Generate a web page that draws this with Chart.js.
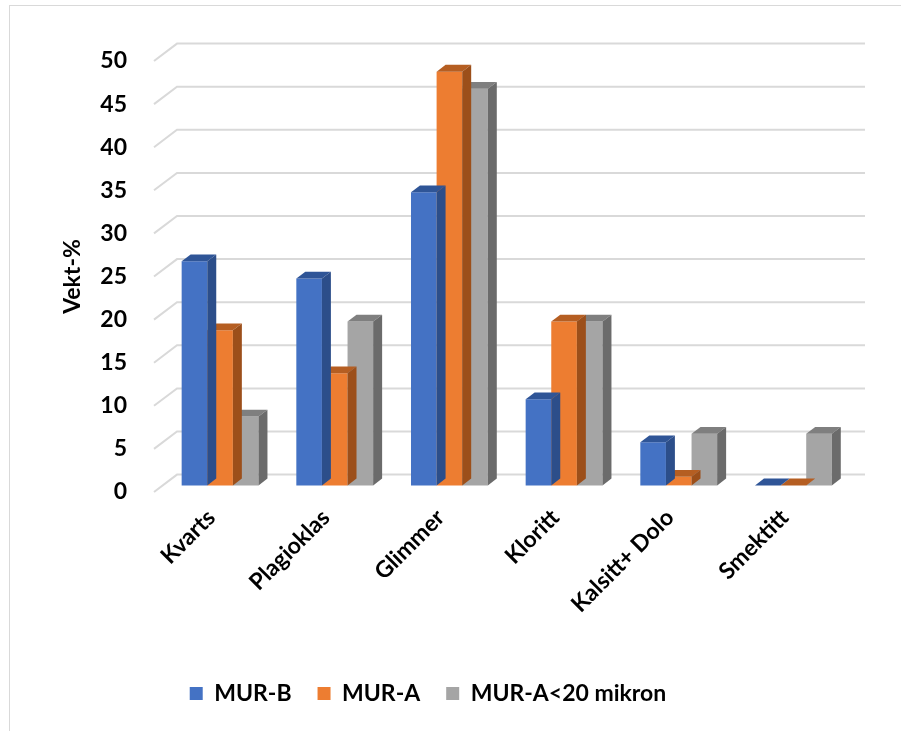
<!DOCTYPE html>
<html>
<head>
<meta charset="utf-8">
<script src="https://cdn.jsdelivr.net/npm/chart.js@4.4.0/dist/chart.umd.min.js"></script>
<style>
  html, body { margin: 0; padding: 0; background: #fff; }
  #wrap { position: relative; width: 901px; height: 731px; }
  #frame { position: absolute; left: 9px; top: 5px; width: 1000px; height: 1000px; border: 1px solid #d9d9d9; box-sizing: border-box; }
  canvas { position: absolute; left: 0; top: 0; }
</style>
</head>
<body>
<div id="wrap">
  <div id="frame"></div>
  <canvas id="chart" width="901" height="731"></canvas>
</div>
<script>
// ── Mineral composition (weight %) ─────────────────────────────
const categories = ['Kvarts', 'Plagioklas', 'Glimmer', 'Kloritt', 'Kalsitt+ Dolo', 'Smektitt'];
const seriesNames = ['MUR-B', 'MUR-A', 'MUR-A<20 mikron'];
const murB   = [26, 24, 34, 10, 5, 0];
const murA   = [18, 13, 48, 19, 1, 0];
const murA20 = [8, 19, 46, 19, 6, 6];
const yTicks = [0, 5, 10, 15, 20, 25, 30, 35, 40, 45, 50];

// front / top / side shades for each series
const faceColors = [
  { front: '#4472C4', top: '#2F5597', side: '#2C4E8A' },
  { front: '#ED7D31', top: '#B55E22', side: '#9C4F1A' },
  { front: '#A5A5A5', top: '#7F7F7F', side: '#6B6B6B' }
];

// fake 3D: wall depth offset and where the bars sit inside it
const depth = { dx: 23, dy: 17.4, barStart: 0.38, barDepth: 0.39 };

const font = { family: 'Lato', size: 23, weight: 'bold' };

const box3d = {
  id: 'box3d',
  beforeDatasetsDraw(chart) {
    const { ctx, chartArea: a, scales: { y } } = chart;
    ctx.save();
    ctx.strokeStyle = '#d9d9d9';
    ctx.lineWidth = 2;
    yTicks.forEach(v => {
      const py = y.getPixelForValue(v);
      ctx.beginPath();
      ctx.moveTo(a.left, py);
      ctx.lineTo(a.left + depth.dx, py - depth.dy);
      ctx.lineTo(a.right + depth.dx, py - depth.dy);
      ctx.stroke();
    });
    ctx.restore();
  },
  beforeDatasetDraw(chart) {
    const ctx = chart.ctx;
    ctx.save();
    ctx.translate(depth.dx * depth.barStart, -depth.dy * depth.barStart);
  },
  afterDatasetDraw(chart, args) {
    const ctx = chart.ctx;
    const c = faceColors[args.index];
    const ox = depth.dx * depth.barDepth, oy = depth.dy * depth.barDepth;
    args.meta.data.forEach(bar => {
      const { x, y, base, width } = bar.getProps(['x', 'y', 'base', 'width'], true);
      const l = x - width / 2, r = x + width / 2;
      ctx.fillStyle = c.top;
      ctx.beginPath();
      ctx.moveTo(l, y); ctx.lineTo(r, y); ctx.lineTo(r + ox, y - oy); ctx.lineTo(l + ox, y - oy);
      ctx.closePath(); ctx.fill();
      ctx.fillStyle = c.side;
      ctx.beginPath();
      ctx.moveTo(r, y); ctx.lineTo(r, base); ctx.lineTo(r + ox, base - oy); ctx.lineTo(r + ox, y - oy);
      ctx.closePath(); ctx.fill();
    });
    ctx.restore();
  }
};

const values = [murB, murA, murA20];

new Chart(document.getElementById('chart'), {
  type: 'bar',
  data: {
    labels: categories,
    datasets: values.map((data, i) => ({
      label: seriesNames[i],
      data,
      backgroundColor: faceColors[i].front,
      borderWidth: 0,
      categoryPercentage: 0.67,
      barPercentage: 1,
      clip: false
    }))
  },
  options: {
    responsive: false,
    animation: false,
    layout: { padding: { left: 14, right: 59, top: 61, bottom: 16 } },
    plugins: {
      tooltip: { enabled: false },
      legend: {
        position: 'bottom',
        labels: { boxWidth: 13, boxHeight: 13, padding: 26, color: '#000', font }
      }
    },
    scales: {
      x: {
        grid: { display: false, drawTicks: false },
        border: { display: false },
        ticks: { color: '#000', font, minRotation: 45, maxRotation: 45, autoSkip: false, padding: 12 },
        afterFit: s => { s.height = 164; }
      },
      y: {
        min: 0, max: 50,
        grid: { display: false, drawTicks: false },
        border: { display: false },
        ticks: { stepSize: 5, padding: 27, color: '#000', font },
        title: { display: true, text: 'Vekt-%', color: '#000', font, padding: { top: 45, bottom: 0 } },
        afterFit: s => { s.width = 140; }
      }
    }
  },
  plugins: [box3d]
});
</script>
</body>
</html>
